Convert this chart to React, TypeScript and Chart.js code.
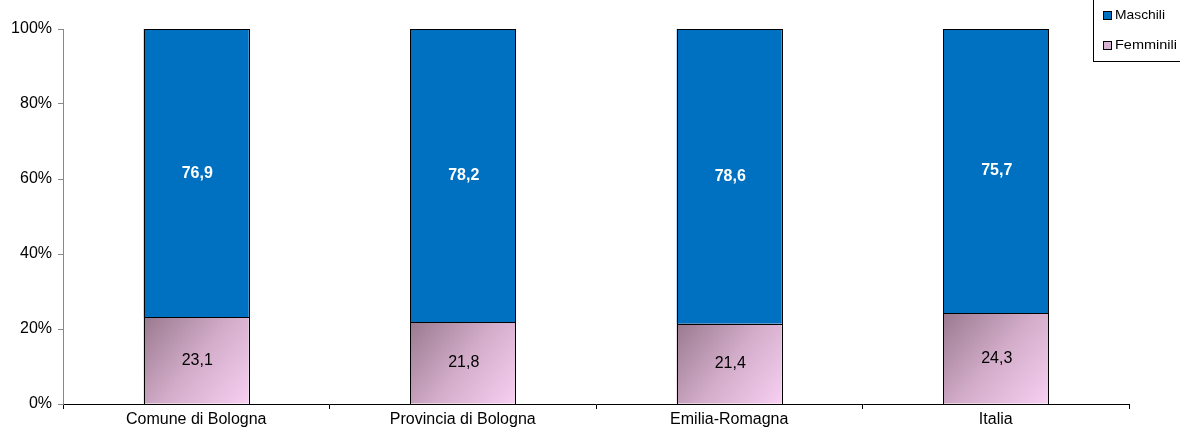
import React, { useEffect, useRef } from "react";
import { Chart, registerables } from "chart.js";

Chart.register(...registerables);

const categories = ["Comune di Bologna", "Provincia di Bologna", "Emilia-Romagna", "Italia"];
const femminili = [23.1, 21.8, 21.4, 24.3];
const maschili = [76.9, 78.2, 78.6, 75.7];
const seriesNames = ["Femminili", "Maschili"];
const yTicks = [0, 20, 40, 60, 80, 100];

const FONT = "'Liberation Sans', Arial, sans-serif";
const BLUE = "#0070C0";
const BAR_W = 105;

function fmt(v: number) {
  return v.toFixed(1).replace(".", ",");
}

export default function App() {
  const ref = useRef<HTMLCanvasElement | null>(null);

  useEffect(() => {
    const canvas = ref.current;
    if (!canvas) return;

    const pinkGradient = (c: any) => {
      const chart = c.chart;
      const xs = chart.scales.x;
      const ys = chart.scales.y;
      if (!xs || !ys || !chart.chartArea) return "#D4AECB";
      const i = c.dataIndex;
      const cx = xs.getPixelForValue(i);
      const top = ys.getPixelForValue(femminili[i]);
      const base = ys.getPixelForValue(0);
      const g = chart.ctx.createLinearGradient(cx - BAR_W / 2, top, cx + BAR_W / 2, base);
      g.addColorStop(0, "#9A7A8F");
      g.addColorStop(0.5, "#D2ACC9");
      g.addColorStop(1, "#F7D0F2");
      return g;
    };

    const labelsPlugin = {
      id: "valueLabels",
      afterDatasetsDraw(chart: any) {
        const ctx = chart.ctx;
        ctx.save();
        ctx.strokeStyle = "#000";
        ctx.lineWidth = 1;
        chart.data.datasets.forEach((_ds: any, di: number) => {
          const meta = chart.getDatasetMeta(di);
          meta.data.forEach((bar: any) => {
            const p = bar.getProps(["x", "y", "base", "width"], true);
            const x0 = Math.round(p.x - p.width / 2) + 0.5;
            const x1 = Math.round(p.x + p.width / 2) + 0.5;
            const y0 = Math.round(Math.min(p.y, p.base)) + 0.5;
            const y1 = Math.round(Math.max(p.y, p.base)) + 0.5;
            ctx.strokeRect(x0, y0, x1 - x0, y1 - y0);
          });
        });
        ctx.textAlign = "center";
        ctx.textBaseline = "middle";
        chart.data.datasets.forEach((ds: any, di: number) => {
          const meta = chart.getDatasetMeta(di);
          meta.data.forEach((bar: any, j: number) => {
            const p = bar.getProps(["x", "y", "base"], true);
            if (di === 1) {
              ctx.font = `bold 16px ${FONT}`;
              ctx.fillStyle = "#FFFFFF";
            } else {
              ctx.font = `16px ${FONT}`;
              ctx.fillStyle = "#000000";
            }
            ctx.fillText(fmt(ds.data[j]), p.x + 1, (p.y + p.base) / 2);
          });
        });
        ctx.restore();
      },
    };

    const legendPlugin = {
      id: "customLegend",
      afterDraw(chart: any) {
        const ctx = chart.ctx;
        ctx.save();
        ctx.strokeStyle = "#000";
        ctx.lineWidth = 1;
        ctx.strokeRect(1093.5, -10.5, 100, 72);
        const items = [
          { name: seriesNames[1], color: BLUE, y: 15, target: 50 },
          { name: seriesNames[0], color: "#D8B4D2", y: 45, target: 62 },
        ];
        items.forEach((it) => {
          ctx.fillStyle = it.color;
          ctx.fillRect(1104, it.y - 3, 7, 7);
          ctx.strokeRect(1103.5, it.y - 3.5, 8, 8);
          ctx.font = `13px ${FONT}`;
          ctx.fillStyle = "#000";
          ctx.textBaseline = "middle";
          ctx.textAlign = "left";
          const w = ctx.measureText(it.name).width;
          ctx.save();
          ctx.translate(1115, it.y + 0.5);
          ctx.scale(it.target / w, 1);
          ctx.fillText(it.name, 0, 0);
          ctx.restore();
        });
        ctx.restore();
      },
    };

    const common = {
      borderWidth: 0,
      borderSkipped: false as const,
      inflateAmount: 0,
      barThickness: BAR_W,
    };

    const chart = new Chart(canvas, {
      type: "bar",
      data: {
        labels: categories,
        datasets: [
          { label: seriesNames[0], data: femminili, backgroundColor: pinkGradient, ...common },
          { label: seriesNames[1], data: maschili, backgroundColor: BLUE, ...common },
        ],
      },
      options: {
        responsive: false,
        animation: false,
        devicePixelRatio: 1,
        layout: { padding: { top: 29, right: 51, bottom: 0, left: 0 } },
        plugins: {
          legend: { display: false },
          title: { display: false },
          tooltip: { enabled: false },
        },
        scales: {
          x: {
            stacked: true,
            grid: {
              display: true,
              drawOnChartArea: false,
              drawTicks: true,
              tickLength: 5,
              color: "#000",
              offset: true,
            },
            border: { display: true, color: "#000", width: 1 },
            ticks: {
              color: "#000",
              font: { family: FONT, size: 16 },
              padding: 1,
              maxRotation: 0,
            },
            afterFit: (s: any) => {
              s.height = 27;
            },
          },
          y: {
            stacked: true,
            min: 0,
            max: 100,
            afterBuildTicks: (s: any) => {
              s.ticks = yTicks.map((v) => ({ value: v }));
            },
            grid: {
              display: true,
              drawOnChartArea: false,
              drawTicks: true,
              tickLength: 5,
              color: "#888",
            },
            border: { display: true, color: "#888", width: 1 },
            ticks: {
              color: "#000",
              font: { family: FONT, size: 16 },
              padding: 6,
              callback: (v: any) => `${v}%`,
            },
            afterFit: (s: any) => {
              s.width = 63;
            },
          },
        },
      },
      plugins: [labelsPlugin, legendPlugin],
    });

    return () => chart.destroy();
  }, []);

  return (
    <div style={{ position: "absolute", left: 0, top: 0, width: 1180, height: 431, background: "#fff" }}>
      <canvas ref={ref} width={1180} height={431} style={{ display: "block", width: 1180, height: 431 }} />
    </div>
  );
}
